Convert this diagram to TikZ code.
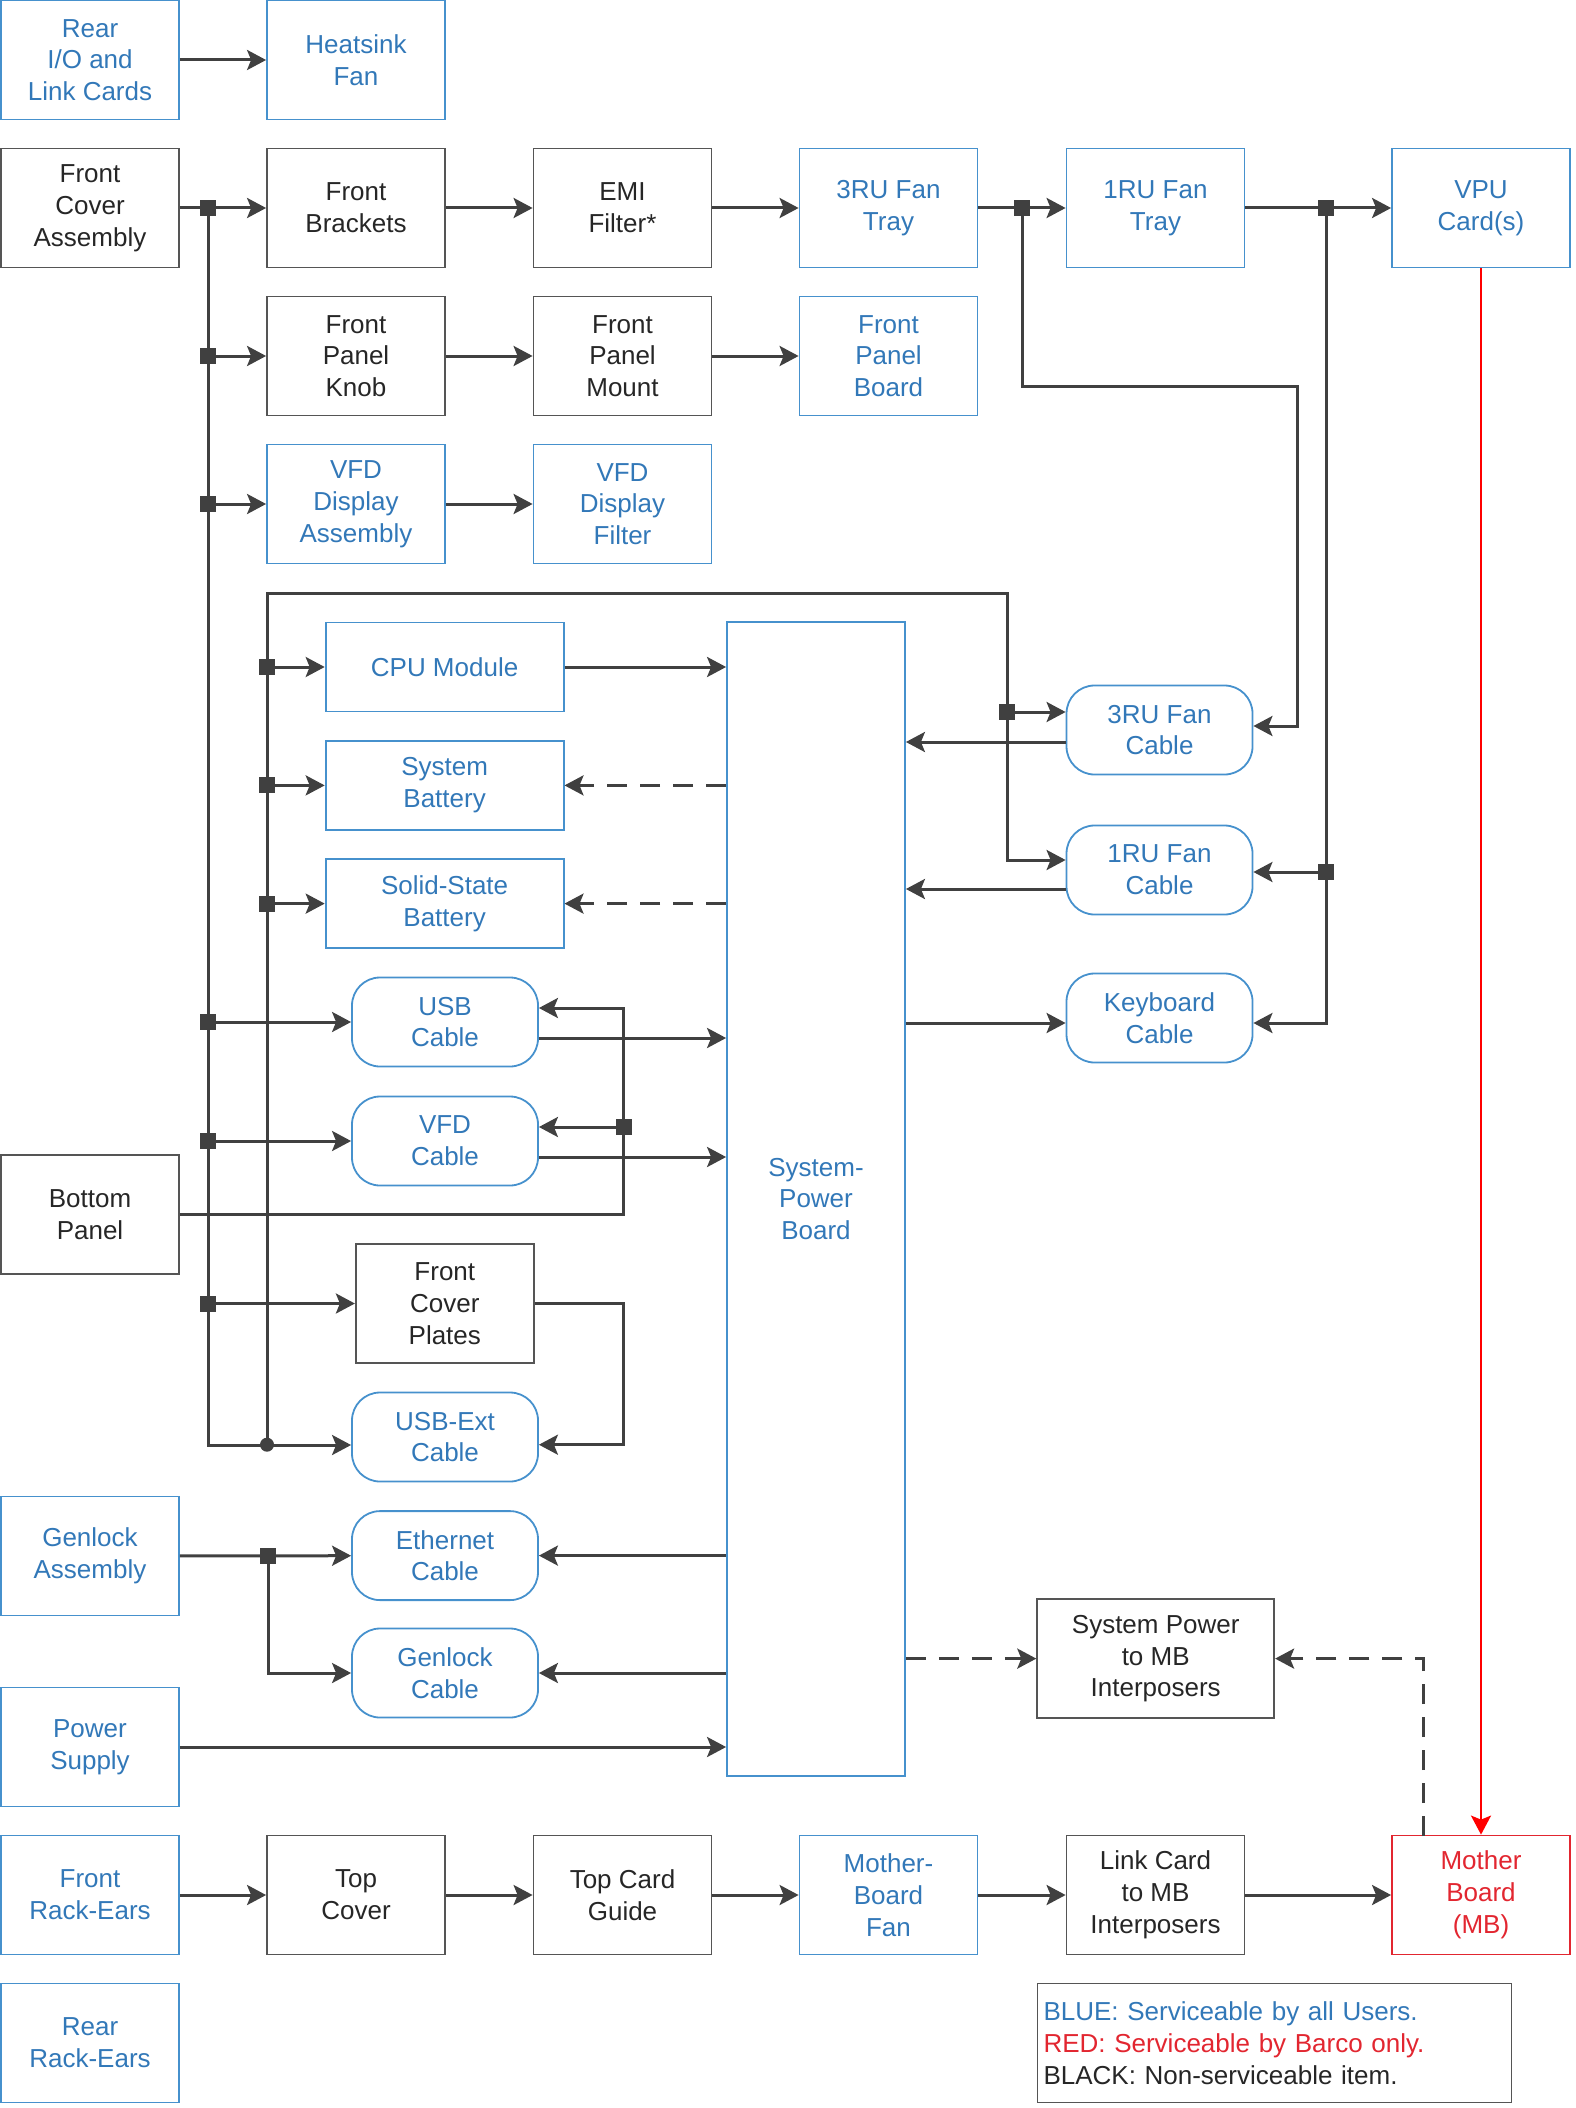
\documentclass[tikz,border=0pt]{standalone}
\usepackage{fontspec}
\setmainfont{Liberation Sans}
\usetikzlibrary{arrows.meta}
\definecolor{svcblue}{RGB}{50,120,184}
\definecolor{boxblue}{RGB}{70,145,205}
\definecolor{svcred}{RGB}{226,38,48}
\definecolor{wire}{RGB}{64,64,64}
\definecolor{edge}{RGB}{85,85,85}
\tikzset{
  part/.style={draw, line width=0.9pt, align=center, inner sep=2pt,
    minimum width=89pt, minimum height=59.5pt,
    font=\fontsize{13}{15.9}\selectfont},
  blue part/.style={part, draw=boxblue, text=svcblue},
  black part/.style={part, draw=edge, text=black!85},
  red part/.style={part, draw=svcred, text=svcred},
  cable/.style={blue part, rounded corners=14pt, minimum width=93pt, minimum height=44.5pt},
  wide/.style={minimum width=119pt, minimum height=44.5pt},
  wireline/.style={draw=wire, line width=1.5pt},
  link/.style={wireline, -{Stealth[length=9.5pt,width=10pt,inset=2pt]}},
  dashlink/.style={link, dash pattern=on 10pt off 6.5pt},
  redlink/.style={draw=red, line width=1.3pt, -{Stealth[length=9.5pt,width=10pt,inset=2pt]}},
  junction/.style={fill=wire, minimum size=8pt, inner sep=0pt},
  bend dot/.style={circle, fill=wire, minimum size=7pt, inner sep=0pt},
}
\begin{document}
\begin{tikzpicture}[x=0.5pt, y=-0.5pt]
  \useasboundingbox (0,0) rectangle (1575,2108);
  % top rows
  \node[blue part] (rio) at (90,60) {Rear\\I/O and\\Link Cards};
  \node[blue part] (hsf) at (356,60) {Heatsink\\Fan};
  \node[black part] (fca) at (90,208) {Front\\Cover\\Assembly};
  \node[black part] (fbr) at (356,208) {Front\\Brackets};
  \node[black part] (emi) at (622.5,208) {EMI\\Filter*};
  \node[blue part] (fan3) at (888.5,208) {3RU Fan\\Tray};
  \node[blue part] (fan1) at (1155.5,208) {1RU Fan\\Tray};
  \node[blue part] (vpu) at (1481,208) {VPU\\Card(s)};
  \node[black part] (fpk) at (356,356) {Front\\Panel\\Knob};
  \node[black part] (fpm) at (622.5,356) {Front\\Panel\\Mount};
  \node[blue part] (fpb) at (888.5,356) {Front\\Panel\\Board};
  \node[blue part] (vda) at (356,504) {VFD\\Display\\Assembly};
  \node[blue part] (vdf) at (622.5,504) {VFD\\Display\\Filter};
  % middle
  \node[blue part, wide] (cpu) at (444.6,667) {CPU Module};
  \node[blue part, wide] (sbat) at (444.6,785.4) {System\\Battery};
  \node[blue part, wide] (ssb) at (444.6,903.6) {Solid-State\\Battery};
  \node[cable] (usb) at (445,1022) {USB\\Cable};
  \node[cable] (vfdc) at (445,1141) {VFD\\Cable};
  \node[black part] (bpan) at (90,1214.6) {Bottom\\Panel};
  \node[black part] (fcp) at (444.8,1303.5) {Front\\Cover\\Plates};
  \node[cable] (usbx) at (445,1437) {USB-Ext\\Cable};
  \node[blue part] (gla) at (90,1556) {Genlock\\Assembly};
  \node[cable] (eth) at (445,1555.6) {Ethernet\\Cable};
  \node[cable] (glc) at (445,1673) {Genlock\\Cable};
  \node[blue part] (psu) at (90,1747) {Power\\Supply};
  \node[blue part, minimum height=577pt] (spb) at (816,1199) {System-\\Power\\Board};
  \node[cable] (c3) at (1159.5,730) {3RU Fan\\Cable};
  \node[cable] (c1) at (1159.5,870) {1RU Fan\\Cable};
  \node[cable] (kbd) at (1159.5,1018) {Keyboard\\Cable};
  \node[black part, minimum width=118.5pt] (sptm) at (1155.7,1658.6) {System Power\\to MB\\Interposers};
  % bottom rows
  \node[blue part] (fre) at (90,1895) {Front\\Rack-Ears};
  \node[black part] (tcv) at (356,1895) {Top\\Cover};
  \node[black part] (tcg) at (622.5,1895) {Top Card\\Guide};
  \node[blue part] (mbf) at (888.5,1895) {Mother-\\Board\\Fan};
  \node[black part] (lcm) at (1155.5,1895) {Link Card\\to MB\\Interposers};
  \node[red part] (mb) at (1481,1895) {Mother\\Board\\(MB)};
  \node[blue part] (rre) at (90,2043) {Rear\\Rack-Ears};
  \node[black part, align=left, text width=231pt, inner sep=3pt] (key) at (1274.5,2043)
    {\textcolor{svcblue}{BLUE: Serviceable by all Users.}\\
     \textcolor{svcred}{RED: Serviceable by Barco only.}\\
     BLACK: Non-serviceable item.};
  % junction points
  \coordinate (jf1) at (208,208);
  \coordinate (jf2) at (208,356);
  \coordinate (jf3) at (208,504);
  \coordinate (jf4) at (208,1022);
  \coordinate (jf5) at (208,1141);
  \coordinate (jf6) at (208,1303.5);
  \coordinate (dot) at (267,1444.7);
  \coordinate (ji1) at (267,667);
  \coordinate (ji2) at (267,785.4);
  \coordinate (ji3) at (267,903.6);
  \coordinate (jw) at (1007,712);
  \coordinate (jt3) at (1022,208);
  \coordinate (jt1) at (1326,208);
  \coordinate (jk) at (1326,872);
  \coordinate (jb) at (623.5,1127);
  \coordinate (rr) at (623.5,1444.7);
  \coordinate (jg) at (268,1556);
  \coordinate (mbt) at (1423,1836);
  \begin{scope}
    \draw[link] (rio) -- (hsf);
    \draw[link] (fca) -- (fbr);
    \draw[link] (fbr) -- (emi);
    \draw[link] (emi) -- (fan3);
    \draw[link] (fan3) -- (fan1);
    \draw[link] (fan1) -- (vpu);
    \draw[link] (fpk) -- (fpm);
    \draw[link] (fpm) -- (fpb);
    \draw[link] (vda) -- (vdf);
    \draw[link] (jf1) |- ([yshift=-4pt]usbx.west);
    \draw[link] (jf2) -- (fpk);
    \draw[link] (jf3) -- (vda);
    \draw[link] (jf4) -- (usb);
    \draw[link] (jf5) -- (vfdc);
    \draw[link] (jf6) -- (fcp);
    \draw[link] (dot) |- (1007,593) |- ([yshift=5pt]c1.west);
    \draw[link] (jw) -- (jw -| c3.west);
    \draw[link] (ji1) -- (cpu);
    \draw[link] (ji2) -- (sbat);
    \draw[link] (ji3) -- (ssb);
    \draw[link] (jt3) |- (1297,386.5) |- ([yshift=2pt]c3.east);
    \draw[link] (jt1) |- ([yshift=-2.5pt]kbd.east);
    \draw[link] (jk) -- (jk -| c1.east);
    \draw[link] (cpu) -- (cpu -| spb.west);
    \draw[dashlink] (sbat -| spb.west) -- (sbat);
    \draw[dashlink] (ssb -| spb.west) -- (ssb);
    \draw[link] ([yshift=-8pt]usb.east) -- ([yshift=-8pt]usb.east -| spb.west);
    \draw[link] ([yshift=-8pt]vfdc.east) -- ([yshift=-8pt]vfdc.east -| spb.west);
    \draw[link] (bpan) -| (jb) |- ([yshift=7pt]usb.east);
    \draw[link] (jb) -- (jb -| vfdc.east);
    \draw[link] (fcp) -| (rr) -- (rr -| usbx.east);
    \draw[link] (gla) -- (eth);
    \draw[link] (jg) |- (glc);
    \draw[link] (eth -| spb.west) -- (eth);
    \draw[link] (glc -| spb.west) -- (glc);
    \draw[link] (psu) -- (psu -| spb.west);
    \draw[link] ([yshift=-6pt]c3.west) -- ([yshift=-6pt]c3.west -| spb.east);
    \draw[link] ([yshift=-9.5pt]c1.west) -- ([yshift=-9.5pt]c1.west -| spb.east);
    \draw[link] ([yshift=-2.5pt]kbd.west -| spb.east) -- ([yshift=-2.5pt]kbd.west);
    \draw[dashlink] (sptm -| spb.east) -- (sptm);
    \draw[dashlink] (mbt) |- (sptm);
    \draw[redlink] (vpu) -- (mb);
    \draw[link] (fre) -- (tcv);
    \draw[link] (tcv) -- (tcg);
    \draw[link] (tcg) -- (mbf);
    \draw[link] (mbf) -- (lcm);
    \draw[link] (lcm) -- (mb);
  \end{scope}
  \foreach \j in {jf1,jf2,jf3,jf4,jf5,jf6,ji1,ji2,ji3,jw,jt3,jt1,jk,jb,jg}
    \node[junction] at (\j) {};
  \node[bend dot] at (dot) {};
\end{tikzpicture}
\end{document}
